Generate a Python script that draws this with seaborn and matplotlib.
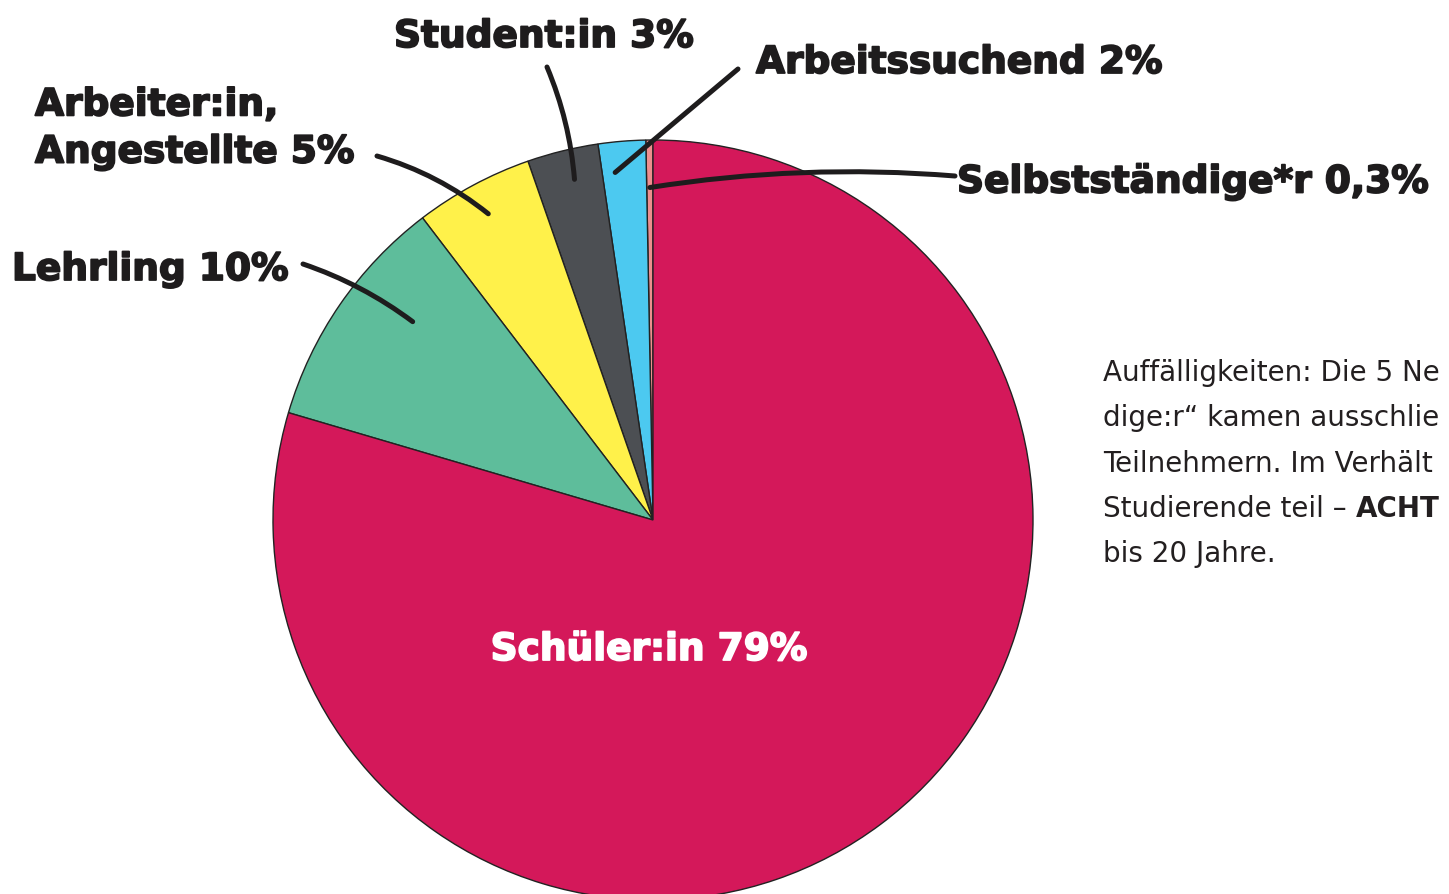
import numpy as np
import matplotlib
matplotlib.use("Agg")
import matplotlib.pyplot as plt
import matplotlib.patheffects as pe
import seaborn as sns

# ---- data ----
categories = ["Selbstständige*r", "Arbeitssuchend", "Student:in",
              "Arbeiter:in, Angestellte", "Lehrling", "Schüler:in"]
shares = [0.3, 2, 3, 5, 10, 79]
labels = ["Selbstständige*r 0,3%", "Arbeitssuchend 2%", "Student:in 3%",
          "Arbeiter:in,\nAngestellte 5%", "Lehrling 10%", "Schüler:in 79%"]
colors = ["#EE8E8E", "#4CC9F0", "#4C4F53", "#FFF14A", "#5EBD9B", "#D4185A"]
note_lines = ["Auffälligkeiten: Die 5 Ne",
              "dige:r“ kamen ausschlie",
              "Teilnehmern. Im Verhält",
              "Studierende teil – ",
              "bis 20 Jahre."]
note_bold = "ACHT"

sns.set_theme(style="white")
plt.rcParams['font.family'] = ['DejaVu Sans']

W, H = 1449, 894
fig = plt.figure(figsize=(W / 100, H / 100), dpi=100)
ax = fig.add_axes([0, 0, 1, 1])

cx, cy, R = 653, H - 520, 380
wedges, _ = ax.pie(shares, colors=colors, startangle=90, counterclock=True,
                   center=(cx, cy), radius=R, frame=True,
                   wedgeprops=dict(edgecolor="#222222", linewidth=1.0))
ax.set_xlim(0, W)
ax.set_ylim(0, H)
ax.set_aspect("equal")
ax.axis("off")

tot = sum(shares)
cum = np.cumsum([0] + shares)
mid_angles = [90 + (cum[i] + shares[i] / 2) / tot * 360 for i in range(len(shares))]

def pt(i, frac, dang=0.0):
    a = np.deg2rad(mid_angles[i] + dang)
    return (cx + R * frac * np.cos(a), cy + R * frac * np.sin(a))

ink = "#1e1c1d"
lab_font = dict(fontweight="bold", fontsize=27, color=ink,
                path_effects=[pe.withStroke(linewidth=1.3, foreground=ink)])

label_pos = {
    0: (957, 182),
    1: (756, 63),
    2: (394, 37),
    3: (35, 129),
    4: (12, 270),
}
leader_start = {0: (955, 176), 1: (738, 69), 2: (547, 67), 3: (377, 156), 4: (303, 264)}
leader_frac = {0: 0.875, 1: 0.92, 2: 0.92, 3: 0.915, 4: 0.82}
leader_dang = {0: 0.0, 1: 1.5, 2: -0.8, 3: 0.0, 4: -5.0}
leader_rad = {0: 0.06, 1: 0.0, 2: -0.08, 3: -0.1, 4: -0.08}
for i, (x, y) in label_pos.items():
    ax.text(x, H - y, labels[i], ha="left", va="center", linespacing=1.4, **lab_font)
    sx, sy = leader_start[i]
    ax.annotate("", xy=pt(i, leader_frac[i], leader_dang[i]), xytext=(sx, H - sy),
                arrowprops=dict(arrowstyle="-", lw=3.6, color=ink,
                                shrinkA=0, shrinkB=0, capstyle="round",
                                connectionstyle=f"arc3,rad={leader_rad[i]}"))

ax.text(649, H - 650, labels[5], ha="center", va="center",
        fontweight="bold", fontsize=27, color="white",
        path_effects=[pe.withStroke(linewidth=1.3, foreground="white")])

# side note
y0 = 373
fs = 20
for k, line in enumerate(note_lines):
    t = ax.text(1103, H - (y0 + 45.3 * k), line, ha="left", va="center",
                fontsize=fs, color="#231f20")
    if k == 3:
        fig.canvas.draw()
        bb = t.get_window_extent()
        ax.text(bb.x1, H - (y0 + 45.3 * k), note_bold, ha="left", va="center",
                fontsize=fs, fontweight="bold", color="#231f20")

fig.savefig("out.png", dpi=100)
